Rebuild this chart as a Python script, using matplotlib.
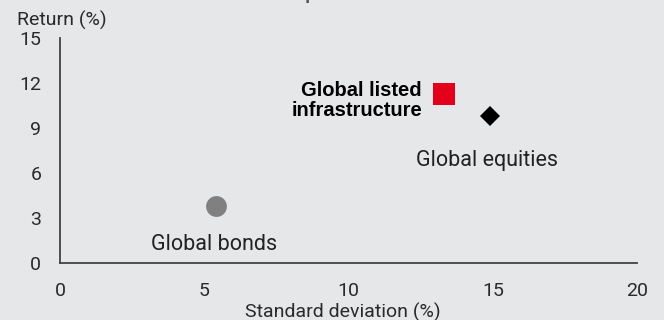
import matplotlib.pyplot as plt

# risk / return by asset class
assets = ['Global bonds', 'Global listed\ninfrastructure', 'Global equities']
std_dev = [5.4, 13.3, 14.9]
returns = [3.8, 11.3, 9.8]
markers = ['o', 's', 'D']
colors = ['#808080', '#e2001a', '#000000']
sizes = [15, 15.5, 10.5]

xticks = [0, 5, 10, 15, 20]
yticks = [0, 3, 6, 9, 12, 15]

bg = '#e6e7e9'
plt.rcParams['font.family'] = ['Roboto', 'DejaVu Sans']

fig = plt.figure(figsize=(6.64, 3.2), dpi=100, facecolor=bg)
ax = fig.add_axes([60/664, 1-263/320, 577/664, 225/320], facecolor=bg)

for x, y, m, c, s in zip(std_dev, returns, markers, colors, sizes):
    ax.plot(x, y, marker=m, color=c, ms=s, mew=0, ls='none')

# labels next to the markers
ax.text(std_dev[0] - 0.06, returns[0] - 2.93, assets[0], ha='center', va='baseline',
        fontsize=15.5, color='#222222')
ax.text(std_dev[1] - 0.75, returns[1] - 0.45, assets[1], ha='right', va='center',
        fontsize=14.5, fontweight='bold', color='#000000', linespacing=1.05,
        family=['Liberation Sans', 'DejaVu Sans'])
ax.text(std_dev[2] - 0.1, returns[2] - 3.33, assets[2], ha='center', va='baseline',
        fontsize=15.5, color='#222222')

ax.set_xlim(0, 20)
ax.set_ylim(0, 15)
ax.set_xticks(xticks)
ax.set_yticks(yticks)
ax.tick_params(length=0, labelsize=14, labelcolor='#2a2a2a', pad=13.5)
ax.tick_params(axis='x', pad=14)
for s in ['top', 'right']:
    ax.spines[s].set_visible(False)
for s in ['left', 'bottom']:
    ax.spines[s].set_color('#444444')
    ax.spines[s].set_linewidth(1.3)

fig.text(343/664, 1-318/320, 'Standard deviation (%)', fontsize=14, color='#2a2a2a',
         ha='center', va='baseline')
fig.text(17/664, 1-26/320, 'Return (%)', fontsize=14, color='#2a2a2a', va='baseline')

# title sits mostly above the visible area
fig.text(33/664, 1+1/320, 'Asset class risk and return comparison', fontsize=13,
         fontweight='bold', color='#555555', va='baseline',
         family=['Liberation Sans', 'DejaVu Sans'])

fig.savefig('out.png', dpi=100, facecolor=bg)
